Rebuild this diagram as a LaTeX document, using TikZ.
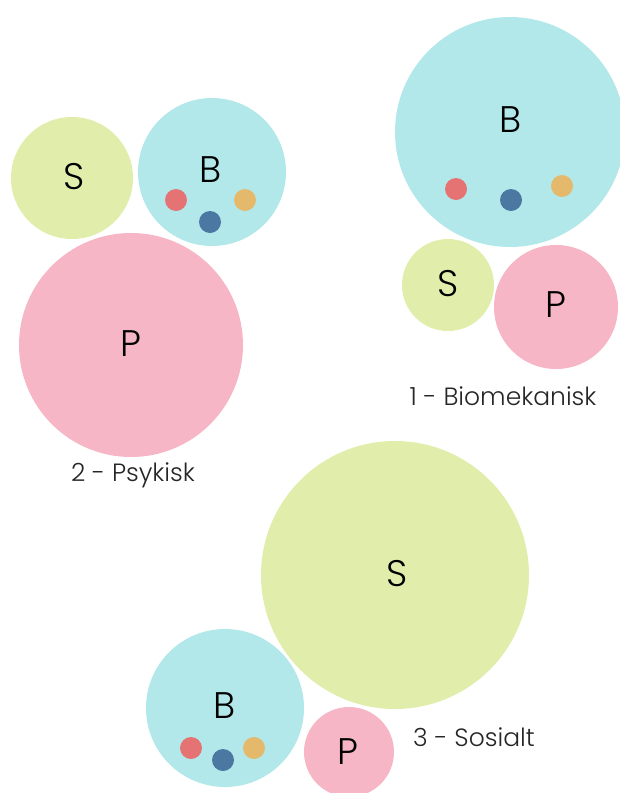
\documentclass[tikz,border=0pt]{standalone}
\usepackage{fontspec}
\setmainfont{Poppins Light}
\definecolor{cB}{HTML}{B3E8EA}
\definecolor{cS}{HTML}{E1EDAB}
\definecolor{cP}{HTML}{F7B6C6}
\definecolor{dRed}{HTML}{E57373}
\definecolor{dBlue}{HTML}{4A78A3}
\definecolor{dOrange}{HTML}{E5B96C}
\begin{document}
\begin{tikzpicture}[x=1pt,y=-1pt,
  ball/.style={circle,inner sep=0pt,minimum size=#1},
  letter/.style={font=\fontsize{37}{42}\selectfont, text=black},
  caption/.style={font=\fontsize{25}{30}\selectfont, text=black!85},
  dot/.style={circle,inner sep=0pt,minimum size=22pt}]
\useasboundingbox (0,0) rectangle (620,793);
\begin{scope}
\clip (0,0) rectangle (620,793);
% group 1
\node[ball=230pt,fill=cB] (b1) at (510,132) {};
\node[ball=92pt,fill=cS] (s1) at (448,285) {};
\node[ball=124pt,fill=cP] (p1) at (556,307) {};
\node[letter] at (511,120) {B};
\node[letter] at (448,284) {S};
\node[letter] at (556,305) {P};
\node[dot,fill=dRed] (r1) at (456,189) {};
\node[dot,fill=dBlue] (u1) at (511,200) {};
\node[dot,fill=dOrange] (o1) at (562,186) {};
\node[caption] (c1) at (503,396) {1 - Biomekanisk};
% group 2
\node[ball=122pt,fill=cS] (s2) at (72,178) {};
\node[ball=148pt,fill=cB] (b2) at (212,172) {};
\node[ball=224pt,fill=cP] (p2) at (131,345) {};
\node[letter] at (74,177) {S};
\node[letter] at (211,170) {B};
\node[letter] at (131,344) {P};
\node[dot,fill=dRed] (r2) at (176,200) {};
\node[dot,fill=dBlue] (u2) at (210,222) {};
\node[dot,fill=dOrange] (o2) at (245,200) {};
\node[caption] (c2) at (133,475) {2 - Psykisk};
% group 3
\node[ball=268pt,fill=cS] (s3) at (395,575) {};
\node[ball=158pt,fill=cB] (b3) at (225,708) {};
\node[ball=90pt,fill=cP] (p3) at (349,752) {};
\node[letter] at (397,574) {S};
\node[letter] at (225,706) {B};
\node[letter] at (348,752) {P};
\node[dot,fill=dRed] (r3) at (191,748) {};
\node[dot,fill=dBlue] (u3) at (223,760) {};
\node[dot,fill=dOrange] (o3) at (254,748) {};
\node[caption] (c3) at (474,737) {3 - Sosialt};
\end{scope}
\end{tikzpicture}
\end{document}
